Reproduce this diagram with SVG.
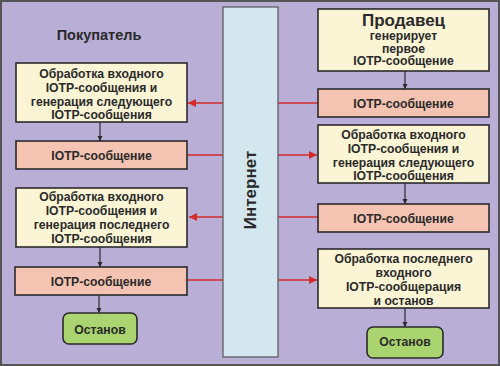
<svg xmlns="http://www.w3.org/2000/svg" width="500" height="366" viewBox="0 0 500 366">
<defs>
<style>
text{font-family:"Liberation Sans",Arial,sans-serif;font-weight:bold;fill:#2a2a2a;text-anchor:middle}
.t{font-size:12.2px}
.proc{fill:#fbf5d6;stroke:#2a2a2a;stroke-width:1.6}
.msg{fill:#f4c3b1;stroke:#2a2a2a;stroke-width:1.6}
.stop{fill:#a9d46f;stroke:#2a2a2a;stroke-width:1.6}
.dn{stroke:#2a2a2a;stroke-width:1.2;fill:none;marker-end:url(#ah)}
.rd{stroke:#d42a2a;stroke-width:1.5;fill:none;marker-end:url(#ar)}
</style>
<marker id="ah" viewBox="0 0 10 10" refX="10" refY="5" markerWidth="5" markerHeight="6" orient="auto" markerUnits="userSpaceOnUse"><path d="M0,0L10,5L0,10z" fill="#2a2a2a"/></marker>
<marker id="ar" viewBox="0 0 10 10" refX="10" refY="5" markerWidth="12" markerHeight="8" orient="auto" markerUnits="userSpaceOnUse"><path d="M0,0L10,5L0,10z" fill="#d42a2a"/></marker>
</defs>
<rect x="1" y="1" width="498" height="364" fill="#b8aed6" stroke="#555" stroke-width="2"/>
<text x="99" y="40" style="font-size:14.5px">Покупатель</text>
<g id="connectors">
<line class="rd" x1="318" y1="103" x2="188" y2="103"/>
<line class="rd" x1="187" y1="155" x2="317" y2="155"/>
<line class="rd" x1="318" y1="217" x2="189" y2="217"/>
<line class="rd" x1="187" y1="280" x2="317" y2="280"/>
<line class="dn" x1="100" y1="122" x2="100" y2="141"/>
<line class="dn" x1="100" y1="247" x2="100" y2="267"/>
<line class="dn" x1="99" y1="295" x2="99" y2="313"/>
<line class="dn" x1="405" y1="71" x2="405" y2="89"/>
<line class="dn" x1="405" y1="183" x2="405" y2="204"/>
<line class="dn" x1="405" y1="308" x2="405" y2="327"/>
</g>
<g id="internet">
<rect x="223" y="7" width="55" height="350" fill="#d5e7ee" stroke="#555" stroke-width="1.2"/>
<text transform="translate(256,190) rotate(-90)" style="font-size:17px">Интернет</text>
</g>
<g id="L1"><rect class="proc" x="16" y="63" width="171" height="59"/>
<text class="t" x="101.5" y="78">Обработка входного</text>
<text class="t" x="101.5" y="92">IOTP-сообщения и</text>
<text class="t" x="101.5" y="105.5">генерация следующего</text>
<text class="t" x="101.5" y="119">IOTP-сообщения</text></g>
<g id="L2"><rect class="msg" x="16" y="141" width="171" height="28"/>
<text class="t" x="101.5" y="160">IOTP-сообщение</text></g>
<g id="L3"><rect class="proc" x="16" y="188" width="171" height="59"/>
<text class="t" x="101.5" y="201">Обработка входного</text>
<text class="t" x="101.5" y="215">IOTP-сообщения и</text>
<text class="t" x="101.5" y="229">генерация последнего</text>
<text class="t" x="101.5" y="242.5">IOTP-сообщения</text></g>
<g id="L4"><rect class="msg" x="15" y="267" width="172" height="28"/>
<text class="t" x="101" y="286">IOTP-сообщение</text></g>
<g id="LStop"><rect class="stop" x="63" y="313" width="74" height="31" rx="6"/>
<text class="t" x="100" y="334">Останов</text></g>
<g id="R1"><rect class="proc" x="318" y="9" width="171" height="62"/>
<text x="403.5" y="26" style="font-size:17px">Продавец</text>
<text class="t" x="403.5" y="40">генерирует</text>
<text class="t" x="403.5" y="52.5">первое</text>
<text class="t" x="403.5" y="65">IOTP-сообщение</text></g>
<g id="R2"><rect class="msg" x="318" y="89" width="171" height="28"/>
<text class="t" x="403.5" y="108">IOTP-сообщение</text></g>
<g id="R3"><rect class="proc" x="318" y="125" width="171" height="58"/>
<text class="t" x="403.5" y="139">Обработка входного</text>
<text class="t" x="403.5" y="153">IOTP-сообщения и</text>
<text class="t" x="403.5" y="167">генерация следующего</text>
<text class="t" x="403.5" y="180">IOTP-сообщения</text></g>
<g id="R4"><rect class="msg" x="318" y="204" width="171" height="28"/>
<text class="t" x="403.5" y="223">IOTP-сообщение</text></g>
<g id="R5"><rect class="proc" x="318" y="249" width="171" height="59"/>
<text class="t" x="403.5" y="263">Обработка последнего</text>
<text class="t" x="403.5" y="277">входного</text>
<text class="t" x="403.5" y="291">IOTP-сообщерация</text>
<text class="t" x="403.5" y="305">и останов</text></g>
<g id="RStop"><rect class="stop" x="367" y="327" width="76" height="31" rx="6"/>
<text class="t" x="405" y="346">Останов</text></g>
</svg>
